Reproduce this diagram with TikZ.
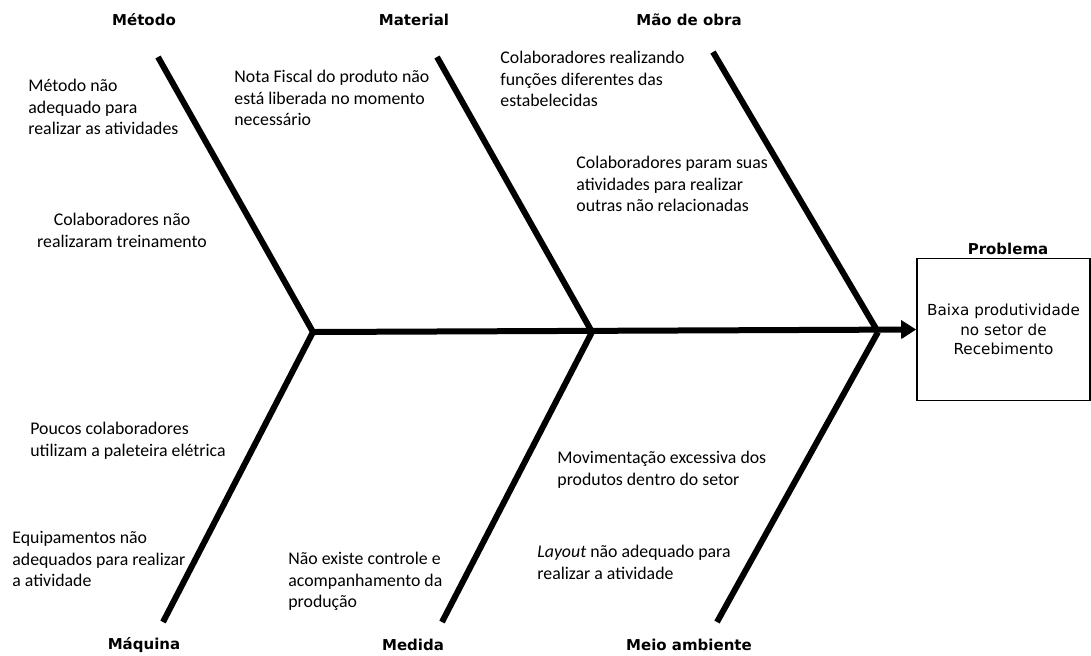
\documentclass[tikz,border=0pt]{standalone}
\usepackage{fontspec}
\newfontfamily\causefont{Carlito}
\newfontfamily\headfont{DejaVu Sans}
\usetikzlibrary{arrows.meta}

\tikzset{
  bone/.style={line width=3pt, line cap=butt},
  spine/.style={line width=3pt, -{Triangle[length=7.5pt,width=9pt]}},
  cause/.style={font=\causefont\fontsize{8.9pt}{10.8pt}\selectfont, align=left, anchor=north west, inner sep=0pt},
  causec/.style={cause, align=center, anchor=north},
  cat/.style={font=\headfont\bfseries\fontsize{7.5pt}{9pt}\selectfont, inner sep=0pt},
  probbox/.style={draw, line width=0.8pt, minimum width=86.5pt, minimum height=71pt, inner sep=0pt,
    font=\headfont\fontsize{7.6pt}{9.8pt}\selectfont, align=center}
}

\begin{document}
\begin{tikzpicture}[x=0.5pt, y=-0.5pt]
  \useasboundingbox (0,0) rectangle (1091,655);

  % junctions on the spine and free ends of the bones
  \coordinate (j1) at (313,332);
  \coordinate (j2) at (592,332);
  \coordinate (j3) at (878,332);
  \coordinate (metodo) at (158,57);
  \coordinate (material) at (437,57);
  \coordinate (maoobra) at (713,52);
  \coordinate (maquina) at (163,622);
  \coordinate (medida) at (442,622);
  \coordinate (meio) at (717,622);

  % effect box
  \node[probbox] (prob) at (1003.5,329.5) {Baixa produtividade\\no setor de\\Recebimento};
  \node[cat] (probl) at (1008,249) {Problema};

  % spine and bones
  \draw[spine] (j1) -- (prob.west);
  \draw[bone] (metodo) -- (j1);
  \draw[bone] (maquina) -- (j1);
  \draw[bone] (material) -- (j2);
  \draw[bone] (medida) -- (j2);
  \draw[bone] (maoobra) -- (j3);
  \draw[bone] (meio) -- (j3);

  % category labels
  \node[cat] (lmet) at (144,20) {Método};
  \node[cat] (lmat) at (414,20) {Material};
  \node[cat] (lmao) at (689,20) {Mão de obra};
  \node[cat] (lmaq) at (144,645) {Máquina};
  \node[cat] (lmed) at (413,645) {Medida};
  \node[cat] (lmei) at (689,645) {Meio ambiente};

  % causes
  \node[cause] (c1) at (28,79) {Método não\\adequado para\\realizar as atividades};
  \node[causec] (c2) at (122,213) {Colaboradores não\\realizaram treinamento};
  \node[cause] (c3) at (234,70) {Nota Fiscal do produto não\\está liberada no momento\\necessário};
  \node[cause] (c4) at (500,51) {Colaboradores realizando\\funções diferentes das\\estabelecidas};
  \node[cause] (c5) at (576,156) {Colaboradores param suas\\atividades para realizar\\outras não relacionadas};
  \node[cause] (c6) at (30,422) {Poucos colaboradores\\utilizam a paleteira elétrica};
  \node[cause] (c7) at (12,531) {Equipamentos não\\adequados para realizar\\a atividade};
  \node[cause] (c8) at (288,552) {Não existe controle e\\acompanhamento da\\produção};
  \node[cause] (c9) at (557,451) {Movimentação excessiva dos\\produtos dentro do setor};
  \node[cause] (c10) at (537,545) {\textit{Layout} não adequado para\\realizar a atividade};
\end{tikzpicture}
\end{document}
